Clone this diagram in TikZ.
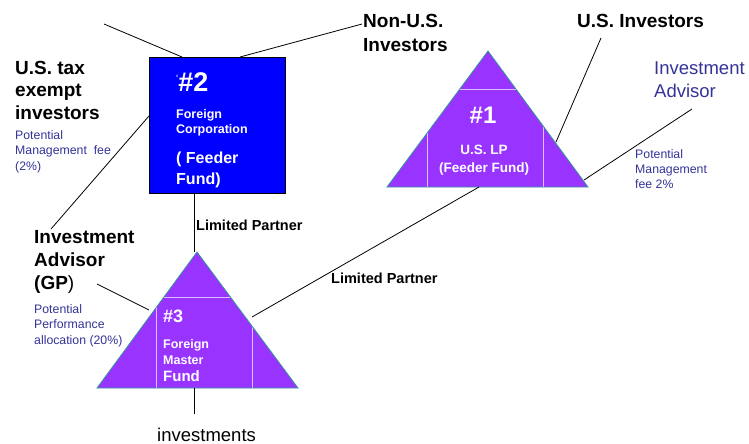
\documentclass[tikz,border=0pt]{standalone}
\usepackage{fontspec}
\setmainfont{Liberation Sans}
\definecolor{boxblue}{HTML}{0000FF}
\definecolor{tripurple}{HTML}{9933FF}
\definecolor{triedge}{HTML}{339999}
\definecolor{innerline}{HTML}{D9C2FF}
\definecolor{noteblue}{HTML}{333399}
\tikzset{
  big/.style={font=\bfseries\fontsize{19}{23}\selectfont, inner sep=0pt, align=left, anchor=base west},
  note/.style={text=noteblue, font=\fontsize{12.3}{15.5}\selectfont, inner sep=0pt, align=left, anchor=base west},
  wtxt/.style={text=white, font=\bfseries, inner sep=0pt, align=left, anchor=base west},
  lbl/.style={font=\bfseries\fontsize{14.5}{16}\selectfont, inner sep=0pt, anchor=base west},
  conn/.style={draw=black, line width=0.8pt},
  inner/.style={draw=innerline, line width=0.9pt},
}
\begin{document}
\begin{tikzpicture}[x=1pt,y=-1pt]
\useasboundingbox (0,0) rectangle (749,444);
% coordinates
\coordinate (t3a) at (197,252);
\coordinate (t3l) at (97,388);
\coordinate (t3r) at (298,388);
\coordinate (t1a) at (488,51);
\coordinate (t1l) at (387,187);
\coordinate (t1r) at (588,187);
% blue square #2
\node[draw=black, fill=boxblue, line width=0.8pt, minimum width=136pt, minimum height=136pt, inner sep=0pt] (sq2) at (217,125) {};
% triangle #3
\fill[tripurple] (t3a) -- (t3l) -- (t3r) -- cycle;
\begin{scope}
  \clip (t3a) -- (t3l) -- (t3r) -- cycle;
  \draw[inner] (156,297) rectangle (252,388);
\end{scope}
\draw[draw=triedge, line width=0.8pt] (t3a) -- (t3l) -- (t3r) -- cycle;
% triangle #1
\fill[tripurple] (t1a) -- (t1l) -- (t1r) -- cycle;
\begin{scope}
  \clip (t1a) -- (t1l) -- (t1r) -- cycle;
  \draw[inner] (427,89) rectangle (543,187);
\end{scope}
\draw[draw=triedge, line width=0.8pt] (t1a) -- (t1l) -- (t1r) -- cycle;
% connector end points
\coordinate (c1) at (104,24);
\coordinate (c1e) at (182,57);
\coordinate (c2) at (362,24);
\coordinate (c2e) at (240,57);
\coordinate (c3) at (149,116);
\coordinate (c3e) at (51,229);
\coordinate (c4) at (194,193);
\coordinate (c5) at (97,284);
\coordinate (c5e) at (149,310);
\coordinate (c6) at (252,317);
\coordinate (c6e) at (479,187);
\coordinate (c7) at (194,388);
\coordinate (c7e) at (194,414);
\coordinate (c8) at (601,38);
\coordinate (c8e) at (556,142);
\coordinate (c9) at (692,109);
\coordinate (c9e) at (584,180);
\draw[conn] (c1) -- (c1e);
\draw[conn] (c2) -- (c2e);
\draw[conn] (c3) -- (c3e);
\draw[conn] (c4) -- (c4 |- t3a);
\draw[conn] (c5) -- (c5e);
\draw[conn] (c6) -- (c6e);
\draw[conn] (c7) -- (c7e);
\draw[conn] (c8) -- (c8e);
\draw[conn] (c9) -- (c9e);
% text in square
\node[wtxt, font=\bfseries\fontsize{27}{30}\selectfont] (n2) at (176,92) {\fontsize{8}{8}\selectfont\raisebox{12pt}{‘}\fontsize{27}{30}\selectfont\#2};
\node[wtxt, font=\bfseries\fontsize{12.5}{15}\selectfont] (fc) at (176,133) {Foreign\\Corporation};
\node[wtxt, font=\bfseries\fontsize{16}{21}\selectfont] (ff) at (176,184) {( Feeder\\Fund)};
% text in triangle #1
\node[text=white, font=\bfseries\fontsize{24}{26}\selectfont, inner sep=0pt, anchor=base] (n1) at (483,123) {\#1};
\node[text=white, font=\bfseries\fontsize{13.5}{18}\selectfont, inner sep=0pt, anchor=base, align=center] (lp) at (484,172) {U.S. LP\\(Feeder Fund)};
% text in triangle #3
\node[wtxt, font=\bfseries\fontsize{18}{20}\selectfont] (n3) at (163,322) {\#3};
\node[wtxt, font=\bfseries\fontsize{12.5}{16}\selectfont] (fm) at (163,364) {Foreign\\Master};
\node[wtxt, font=\bfseries\fontsize{15}{17}\selectfont] (fu) at (163,381) {Fund};
% outer labels
\node[big, font=\bfseries\fontsize{19}{24}\selectfont] (nonus) at (363,52) {Non-U.S.\\Investors};
\node[big] (usinv) at (577,28) {U.S. Investors};
\node[note, font=\fontsize{18.5}{23}\selectfont] (ia) at (654,97) {Investment\\Advisor};
\node[note, font=\fontsize{12.3}{15}\selectfont] (pm1) at (635,188) {Potential\\Management\\fee 2\%};
\node[big, font=\bfseries\fontsize{19}{22.5}\selectfont] (ustax) at (15,119) {U.S. tax\\exempt\\investors};
\node[note] (pm2) at (15,170) {Potential\\Management\ \ fee\\(2\%)};
\node[big] (iagp) at (34,289) {Investment\\Advisor\\(GP{\mdseries)}};
\node[note] (ppa) at (34,344) {Potential\\Performance\\allocation (20\%)};
\node[lbl] (lp1) at (196,230) {Limited Partner};
\node[lbl] (lp2) at (331,283) {Limited Partner};
\node[font=\fontsize{18.5}{20}\selectfont, inner sep=0pt, anchor=base west] (inv) at (157,441) {investments};
\end{tikzpicture}
\end{document}
